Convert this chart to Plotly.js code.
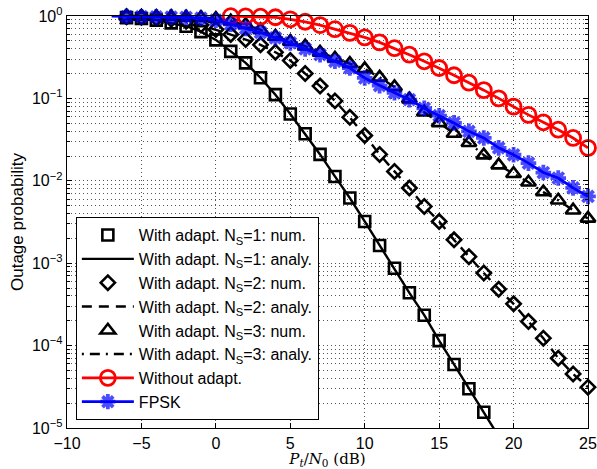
<!DOCTYPE html>
<html>
<head>
<meta charset="utf-8">
<script src="https://cdn.plot.ly/plotly-3.0.1.min.js"></script>
<style>html,body{margin:0;padding:0;background:#fff;}#chart{width:597px;height:469px;}</style>
</head>
<body>
<div id="chart"></div>
<script>
// SNR grid (dB)
const snrNum = [-6,-5,-4,-3,-2,-1,0,1,2,3,4,5,6,7,8,9,10,11,12,13,14,15,16,17,18,19,20,21,22,23,24,25];
// N_S = 1 (numerical markers up to 18 dB, analytical line continues)
const snrNs1 = [-6,-5,-4,-3,-2,-1,0,1,2,3,4,5,6,7,8,9,10,11,12,13,14,15,16,17,18];
const ns1Num = [0.955,0.933,0.891,0.826,0.752,0.646,0.513,0.372,0.27,0.178,0.111,0.0646,0.0372,0.0209,0.0113,6.18e-3,3.21e-3,1.64e-3,8.7e-4,4.37e-4,2.34e-4,1.15e-4,5.9e-5,3.0e-5,1.55e-5];
const snrNs1Ana = [-6,-5,-4,-3,-2,-1,0,1,2,3,4,5,6,7,8,9,10,11,12,13,14,15,16,17,18,19];
const ns1Ana = [0.955,0.933,0.891,0.826,0.752,0.646,0.513,0.372,0.27,0.178,0.111,0.0646,0.0372,0.0209,0.0113,6.18e-3,3.21e-3,1.64e-3,8.7e-4,4.37e-4,2.34e-4,1.15e-4,5.9e-5,3.0e-5,1.55e-5,7.9e-6];
// N_S = 2
const ns2Num = [0.977,0.966,0.944,0.912,0.861,0.776,0.686,0.596,0.518,0.447,0.363,0.288,0.2,0.141,0.0933,0.0589,0.0355,0.0209,0.013,8.17e-3,4.89e-3,3.21e-3,1.92e-3,1.2e-3,7.6e-4,4.84e-4,3.21e-4,1.96e-4,1.23e-4,7.03e-5,4.53e-5,3.13e-5];
const ns2Ana = [0.977,0.966,0.944,0.912,0.861,0.776,0.686,0.596,0.518,0.447,0.363,0.288,0.2,0.141,0.0933,0.0589,0.0355,0.0209,0.013,8.17e-3,4.89e-3,3.21e-3,1.92e-3,1.2e-3,7.6e-4,4.84e-4,3.21e-4,1.96e-4,1.23e-4,7.03e-5,4.53e-5,3.13e-5];
// N_S = 3
const ns3Num = [0.995,0.99,0.985,0.98,0.97,0.955,0.93,0.865,0.785,0.68,0.565,0.49,0.43,0.362,0.307,0.264,0.228,0.18,0.138,0.098,0.068,0.0505,0.0375,0.029,0.0205,0.0155,0.0122,9.6e-3,7.3e-3,5.8e-3,4.4e-3,3.5e-3];
const ns3Ana = [0.995,0.99,0.985,0.98,0.97,0.955,0.93,0.865,0.785,0.68,0.565,0.49,0.43,0.362,0.307,0.264,0.228,0.18,0.138,0.098,0.068,0.0505,0.0375,0.029,0.0205,0.0155,0.0122,9.6e-3,7.3e-3,5.8e-3,4.4e-3,3.5e-3];
// Without adaptation
const snrNoAdapt = [1,2,3,4,5,6,7,8,9,10,11,12,13,14,15,16,17,18,19,20,21,22,23,24,25];
const noAdapt = [0.995,0.99,0.98,0.965,0.912,0.851,0.776,0.692,0.624,0.55,0.479,0.407,0.339,0.282,0.234,0.191,0.155,0.126,0.1,0.0794,0.0631,0.0513,0.0417,0.0331,0.0251];
// FPSK (line starts at -7 dB, markers from -6 dB)
const snrFpsk = [-7,-6,-5,-4,-3,-2,-1,0,1,2,3,4,5,6,7,8,9,10,11,12,13,14,15,16,17,18,19,20,21,22,23,24,25];
const fpsk = [1.0,0.985,0.98,0.975,0.97,0.96,0.94,0.891,0.794,0.708,0.631,0.543,0.472,0.398,0.339,0.282,0.234,0.177,0.143,0.117,0.0966,0.0759,0.0617,0.0504,0.0398,0.0331,0.0251,0.0207,0.0164,0.0126,0.0108,8.2e-3,6.46e-3];
// Axis ticks
const xTicks = [-10,-5,0,5,10,15,20,25];
const yTickVals = [1e-5,1e-4,1e-3,1e-2,1e-1,1];
const yTickText = ['10<sup>\u22125</sup>','10<sup>\u22124</sup>','10<sup>\u22123</sup>','10<sup>\u22122</sup>','10<sup>\u22121</sup>','10<sup>0</sup>'];
const legendNames = [
  'With adapt. N<sub>S</sub>=1: num.',
  'With adapt. N<sub>S</sub>=1: analy.',
  'With adapt. N<sub>S</sub>=2: num.',
  'With adapt. N<sub>S</sub>=2: analy.',
  'With adapt. N<sub>S</sub>=3: num.',
  'With adapt. N<sub>S</sub>=3: analy.',
  'Without adapt.',
  'FPSK'
];

const minorVals = [];
for (let e = -5; e < 0; e++) for (let d = 2; d <= 9; d++) minorVals.push(d * Math.pow(10, e));

const fpskSizes = snrFpsk.map((v, i) => i === 0 ? 0 : 13);

const traces = [
  {x: snrNs1, y: ns1Num, name: legendNames[0], mode: 'markers', cliponaxis: false,
   marker: {symbol: 'square-open', size: 11, color: '#000', line: {width: 2.6, color: '#000'}}},
  {x: snrNs1Ana, y: ns1Ana, name: legendNames[1], mode: 'lines',
   line: {color: '#000', width: 2.4}},
  {x: snrNum, y: ns2Num, name: legendNames[2], mode: 'markers', cliponaxis: false,
   marker: {symbol: 'diamond-open', size: 11, color: '#000', line: {width: 2.6, color: '#000'}}},
  {x: snrNum, y: ns2Ana, name: legendNames[3], mode: 'lines',
   line: {color: '#000', width: 2.4, dash: '10px,7px'}},
  {x: snrNum, y: ns3Num, name: legendNames[4], mode: 'markers', cliponaxis: false,
   marker: {symbol: 'triangle-up-open', size: 13, color: '#000', line: {width: 2.6, color: '#000'}}},
  {x: snrNum, y: ns3Ana, name: legendNames[5], mode: 'lines',
   line: {color: '#000', width: 2.4, dash: '2px,6px,10px,6px'}},
  {x: snrNoAdapt, y: noAdapt, name: legendNames[6], mode: 'lines+markers', cliponaxis: false,
   line: {color: '#ff0000', width: 2.8},
   marker: {symbol: 'circle-open', size: 15, color: '#ff0000', line: {width: 2.8, color: '#ff0000'}}},
  {x: snrFpsk, y: fpsk, name: legendNames[7], mode: 'lines+markers', cliponaxis: false,
   line: {color: '#0000ff', width: 2.8},
   marker: {symbol: 'asterisk-open', size: fpskSizes, color: '#0000ff', line: {width: 3.8, color: '#0000ff'}}}
];

const axisFont = {family: 'Liberation Sans, Arial, sans-serif', size: 16, color: '#000'};
const gridCol = '#555';
const gridDash = '1px,3px';

const layout = {
  width: 597, height: 469,
  margin: {l: 67, r: 9, t: 16, b: 41, pad: 0},
  paper_bgcolor: '#fff', plot_bgcolor: '#fff',
  showlegend: true,
  legend: {
    x: 0.017, y: 0.019, xanchor: 'left', yanchor: 'bottom',
    bgcolor: '#fff', bordercolor: '#000', borderwidth: 1,
    font: {family: 'Liberation Sans, Arial, sans-serif', size: 16, color: '#000'},
    itemwidth: 52, tracegroupgap: 0
  },
  xaxis: {
    range: [-10, 25], tickmode: 'array', tickvals: xTicks,
    ticktext: xTicks.map(v => v < 0 ? '\u2212' + Math.abs(v) : String(v)),
    ticks: 'inside', ticklen: 5, tickcolor: '#000', tickwidth: 1,
    showline: true, linecolor: '#000', linewidth: 1.3, mirror: 'ticks',
    showgrid: true, gridcolor: gridCol, griddash: gridDash, gridwidth: 1,
    zeroline: false, tickfont: axisFont,
    title: {text: '<i>P</i><sub><i>t</i></sub>/<i>N</i><sub>0</sub> (dB)', standoff: 8,
      font: {family: 'DejaVu Serif, Liberation Serif, serif', size: 15, color: '#000'}}
  },
  yaxis: {
    type: 'log', range: [-5, 0], tickmode: 'array', tickvals: yTickVals, ticktext: yTickText,
    ticks: 'inside', ticklen: 5, tickcolor: '#000', tickwidth: 1,
    showline: true, linecolor: '#000', linewidth: 1.3, mirror: 'ticks',
    showgrid: true, gridcolor: gridCol, griddash: gridDash, gridwidth: 1,
    zeroline: false, tickfont: axisFont,
    minor: {tickmode: 'array', tickvals: minorVals, ticks: 'inside', ticklen: 3, tickcolor: '#000',
      showgrid: true, gridcolor: gridCol, griddash: gridDash, gridwidth: 1},
    title: {text: 'Outage probability', standoff: 4,
      font: {family: 'Liberation Sans, Arial, sans-serif', size: 17, color: '#000'}}
  }
};

Plotly.newPlot('chart', traces, layout, {displayModeBar: false, staticPlot: true});
</script>
</body>
</html>
